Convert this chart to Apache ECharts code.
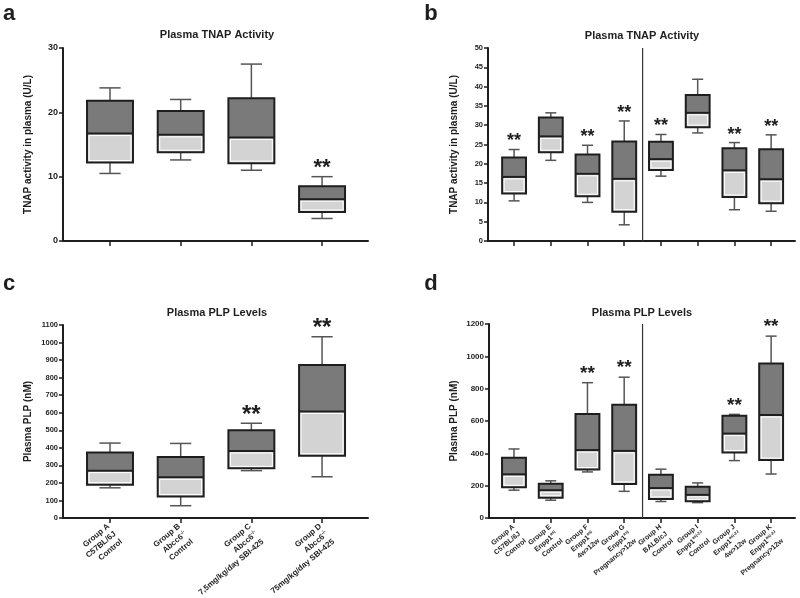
<!DOCTYPE html>
<html><head><meta charset="utf-8">
<script src="https://cdn.jsdelivr.net/npm/echarts@6/dist/echarts.min.js"></script>
<style>html,body{margin:0;padding:0;background:#fff}#c{width:800px;height:598px}</style>
</head><body><div id="c"></div>
<script>
// ---- Panel a : Plasma TNAP Activity (U/L)
const aLow  = [10.5, 12.6, 11.0, 3.5];
const aQ1   = [12.2, 13.8, 12.1, 4.5];
const aMed  = [16.7, 16.5, 16.1, 6.5];
const aQ3   = [21.8, 20.2, 22.2, 8.5];
const aHigh = [23.8, 22.0, 27.5, 10.0];
const aSig  = [0, 0, 0, 1];

// ---- Panel b : Plasma TNAP Activity (U/L), 8 groups
const bLow  = [10.4, 20.9, 10.0, 4.2, 16.8, 28.0, 8.1, 7.7];
const bQ1   = [12.3, 23.0, 11.6, 7.6, 18.4, 29.5, 11.4, 9.8];
const bMed  = [16.6, 27.1, 17.4, 16.1, 21.2, 33.2, 18.3, 16.0];
const bQ3   = [21.6, 32.0, 22.4, 25.8, 25.7, 37.8, 24.0, 23.8];
const bHigh = [23.7, 33.2, 24.8, 31.1, 27.6, 41.9, 25.5, 27.5];
const bSig  = [1, 0, 1, 1, 1, 0, 1, 1];
const bDivider = [[4.5, 0], [4.5, 50]];

// ---- Panel c : Plasma PLP Levels (nM)
const cLine1 = ['Group A', 'Group B', 'Group C', 'Group D'];
const cLine2 = ['C57BL/6J', 'Abcc6', 'Abcc6', 'Abcc6'];
const cSup   = ['', '-/-', '-/-', '-/-'];
const cLine3 = ['Control', 'Control', '7,5mg/kg/day SBI-425', '75mg/kg/day SBI-425'];
const cLow  = [172, 70, 270, 235];
const cQ1   = [190, 122, 283, 355];
const cMed  = [270, 232, 382, 607];
const cQ3   = [373, 348, 500, 872];
const cHigh = [427, 425, 540, 1033];
const cSig  = [0, 0, 1, 1];

// ---- Panel d : Plasma PLP Levels (nM), 8 groups
const dLine1 = ['Group A', 'Group E', 'Group F', 'Group G', 'Group H', 'Group I', 'Group J', 'Group K'];
const dLine2 = ['C57BL/6J', 'Enpp1', 'Enpp1', 'Enpp1', 'BALB/cJ', 'Enpp1', 'Enpp1', 'Enpp1'];
const dSup   = ['', 'asj', 'asj', 'asj', '', 'asj-2J', 'asj-2J', 'asj-2J'];
const dLine3 = ['Control', 'Control', '4w>12w', 'Pregnancy>12w', 'Control', 'Control', '4w>12w', 'Pregnancy>12w'];
const dLow  = [172, 110, 285, 165, 102, 95, 355, 272];
const dQ1   = [190, 125, 300, 211, 118, 103, 405, 358];
const dMed  = [270, 172, 420, 415, 185, 143, 522, 637];
const dQ3   = [372, 212, 643, 700, 268, 193, 632, 955];
const dHigh = [427, 230, 837, 871, 302, 217, 641, 1125];
const dSig  = [0, 0, 1, 1, 0, 0, 1, 1];
const dDivider = [[4.5, 0], [4.5, 1200]];

const FF = '"Liberation Sans", Arial, sans-serif';
const INK = '#1e1e1e';

function boxData(low, q1, med, q3, high, sig) {
  return low.map((v, i) => [i + 1, low[i], q1[i], med[i], q3[i], high[i], sig[i]]);
}

function makeRender(starSize, starOff) {
  return function (params, api) {
    const x = api.value(0);
    const pl = api.coord([x, api.value(1)]);
    const p1 = api.coord([x, api.value(2)]);
    const pm = api.coord([x, api.value(3)]);
    const p3 = api.coord([x, api.value(4)]);
    const ph = api.coord([x, api.value(5)]);
    const unit = api.size([1, 0])[0];
    const bw = unit * 0.65, cw = unit * 0.3;
    const cx = pl[0];
    const L = cx - bw / 2;
    const ws = { stroke: '#555', lineWidth: 1.5 };
    const ch = [
      { type: 'line', shape: { x1: cx, y1: ph[1], x2: cx, y2: p3[1] }, style: ws },
      { type: 'line', shape: { x1: cx - cw / 2, y1: ph[1], x2: cx + cw / 2, y2: ph[1] }, style: ws },
      { type: 'line', shape: { x1: cx, y1: p1[1], x2: cx, y2: pl[1] }, style: ws },
      { type: 'line', shape: { x1: cx - cw / 2, y1: pl[1], x2: cx + cw / 2, y2: pl[1] }, style: ws },
      { type: 'rect', shape: { x: L, y: p3[1], width: bw, height: pm[1] - p3[1] }, style: { fill: '#7a7a7a' } },
      { type: 'rect', shape: { x: L, y: pm[1], width: bw, height: p1[1] - pm[1] }, style: { fill: '#d3d3d3' } }
    ];
    const ih = p1[1] - pm[1] - 4;
    if (ih > 1) ch.push({ type: 'rect', shape: { x: L + 2, y: pm[1] + 2, width: bw - 4, height: ih }, style: { fill: 'none', stroke: '#fff', lineWidth: 1 } });
    ch.push({ type: 'line', shape: { x1: L, y1: pm[1], x2: L + bw, y2: pm[1] }, style: { stroke: INK, lineWidth: 2 } });
    ch.push({ type: 'rect', shape: { x: L, y: p3[1], width: bw, height: p1[1] - p3[1] }, style: { fill: 'none', stroke: INK, lineWidth: 2 } });
    if (api.value(6)) {
      ch.push({ type: 'text', x: cx, y: ph[1] - starOff, style: { text: '**', align: 'center', verticalAlign: 'middle', font: 'bold ' + starSize + 'px ' + FF, fill: INK } });
    }
    return { type: 'group', children: ch };
  };
}

function yAxis(gi, min, max, interval, name, fs, gap) {
  return {
    gridIndex: gi, type: 'value', min: min, max: max, interval: interval,
    name: name, nameLocation: 'middle', nameGap: gap,
    nameTextStyle: { fontFamily: FF, fontWeight: 'bold', fontSize: 10, color: INK },
    axisLine: { show: true, lineStyle: { color: INK, width: 2 } },
    axisTick: { show: true, length: 4, lineStyle: { color: INK, width: 1.5 } },
    axisLabel: { fontFamily: FF, fontWeight: 'bold', fontSize: fs, color: INK, margin: 5, formatter: v => String(v) },
    splitLine: { show: false }
  };
}

function richFmt(l1, l2, sup, l3) {
  return function (v) {
    const i = Math.round(v) - 1;
    if (i < 0 || i >= l1.length) return '';
    return '{n|' + l1[i] + '}\n{n|' + l2[i] + '}' + (sup[i] ? '{s|' + sup[i] + '}' : '') + '\n{n|' + l3[i] + '}';
  };
}

function xAxis(gi, min, max, n, labels, fs, shift, margin) {
  const vals = [], lvals = [min + 0.05];
  for (let i = 1; i <= n; i++) { vals.push(i); lvals.push(i + (shift || 0)); }
  lvals.push(max - 0.05);
  const ax = {
    gridIndex: gi, type: 'value', min: min, max: max,
    axisLine: { show: true, onZero: false, lineStyle: { color: INK, width: 2 } },
    axisTick: { show: true, length: 5, customValues: vals, lineStyle: { color: INK, width: 1.5 } },
    splitLine: { show: false },
    axisLabel: { show: false, customValues: vals }
  };
  if (labels) {
    ax.axisLabel = {
      show: true, customValues: lvals, rotate: 40, margin: margin,
      showMinLabel: false, showMaxLabel: false, hideOverlap: false,
      formatter: richFmt(labels[0], labels[1], labels[2], labels[3]),
      rich: {
        n: { fontFamily: FF, fontWeight: 'bold', fontSize: fs, color: INK, lineHeight: fs + 2 },
        s: { fontFamily: FF, fontWeight: 'bold', fontSize: fs * 0.6, color: INK, lineHeight: fs + 2, verticalAlign: 'top' }
      }
    };
  }
  return ax;
}

function txt(text, x, y, size, align) {
  return { type: 'text', x: x, y: y, style: { text: text, font: 'bold ' + size + 'px ' + FF, fill: INK, align: align || 'center', verticalAlign: 'middle' } };
}

const option = {
  backgroundColor: '#fff',
  animation: false,
  grid: [
    { left: 63, top: 48, width: 305, height: 193, outerBoundsMode: 'none', containLabel: false },
    { left: 488, top: 48, width: 307, height: 193, outerBoundsMode: 'none', containLabel: false },
    { left: 63, top: 325, width: 305, height: 193, outerBoundsMode: 'none', containLabel: false },
    { left: 489, top: 324, width: 306, height: 194, outerBoundsMode: 'none', containLabel: false }
  ],
  xAxis: [
    xAxis(0, 0.335, 4.65, 4, null),
    xAxis(1, 0.29, 8.65, 8, null),
    xAxis(2, 0.335, 4.65, 4, [cLine1, cLine2, cSup, cLine3], 8, 0.07, 15),
    xAxis(3, 0.32, 8.65, 8, [dLine1, dLine2, dSup, dLine3], 7, 0.15, 15)
  ],
  yAxis: [
    yAxis(0, 0, 30, 10, 'TNAP activity in plasma (U/L)', 9, 30),
    yAxis(1, 0, 50, 5, 'TNAP activity in plasma (U/L)', 7.5, 29),
    yAxis(2, 0, 1100, 100, 'Plasma PLP (nM)', 7.5, 30),
    yAxis(3, 0, 1200, 200, 'Plasma PLP (nM)', 8, 30)
  ],
  graphic: [
    txt('a', 9, 14, 22), txt('b', 431, 14, 22), txt('c', 9, 284, 22), txt('d', 431, 284, 22),
    txt('Plasma TNAP Activity', 217, 35, 11), txt('Plasma TNAP Activity', 642, 36, 11),
    txt('Plasma PLP Levels', 217, 313, 11), txt('Plasma PLP Levels', 642, 313, 11)
  ],
  series: [
    { type: 'custom', xAxisIndex: 0, yAxisIndex: 0, renderItem: makeRender(22, 9), encode: { x: 0, y: [1, 2, 3, 4, 5] }, data: boxData(aLow, aQ1, aMed, aQ3, aHigh, aSig) },
    { type: 'custom', xAxisIndex: 1, yAxisIndex: 1, renderItem: makeRender(18, 8), encode: { x: 0, y: [1, 2, 3, 4, 5] }, data: boxData(bLow, bQ1, bMed, bQ3, bHigh, bSig) },
    { type: 'custom', xAxisIndex: 2, yAxisIndex: 2, renderItem: makeRender(24, 8), encode: { x: 0, y: [1, 2, 3, 4, 5] }, data: boxData(cLow, cQ1, cMed, cQ3, cHigh, cSig) },
    { type: 'custom', xAxisIndex: 3, yAxisIndex: 3, renderItem: makeRender(19, 9), encode: { x: 0, y: [1, 2, 3, 4, 5] }, data: boxData(dLow, dQ1, dMed, dQ3, dHigh, dSig) },
    { type: 'line', xAxisIndex: 1, yAxisIndex: 1, data: bDivider, symbol: 'none', lineStyle: { color: '#333', width: 1.2 } },
    { type: 'line', xAxisIndex: 3, yAxisIndex: 3, data: dDivider, symbol: 'none', lineStyle: { color: '#333', width: 1.2 } }
  ]
};

const chart = echarts.init(document.getElementById('c'), null, { renderer: 'canvas' });
chart.setOption(option);
</script>
</body></html>
